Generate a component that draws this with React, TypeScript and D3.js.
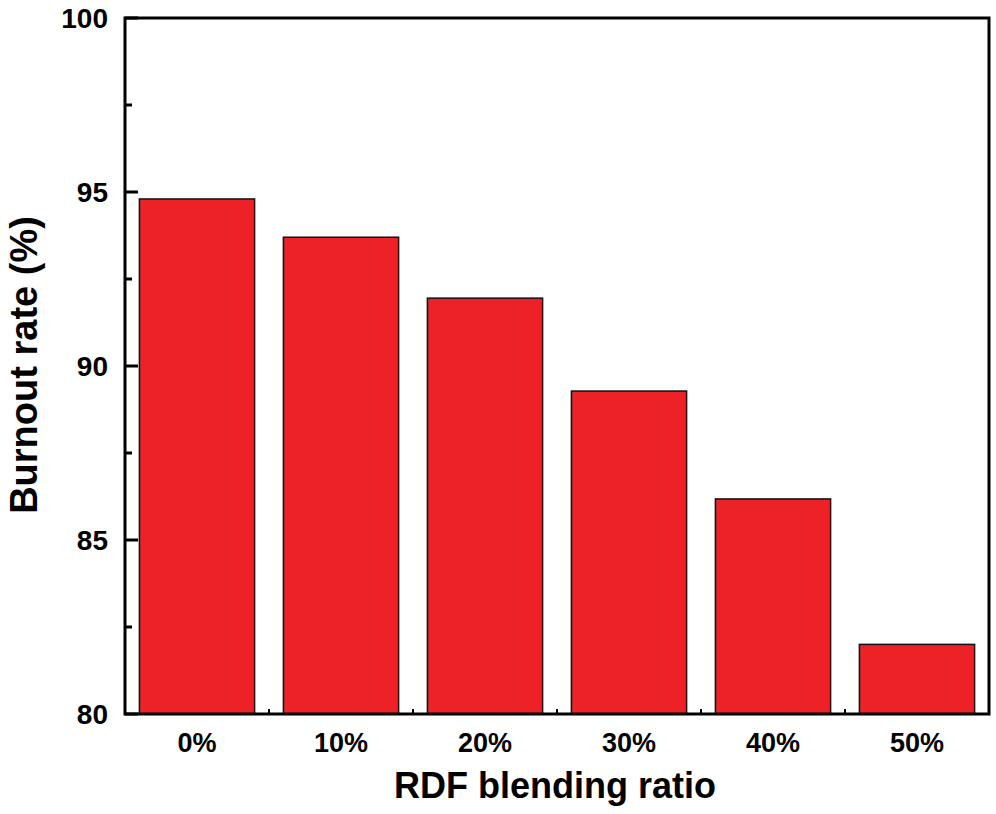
import React, { useEffect, useRef } from 'react';
import * as d3 from 'd3';

const categories = ['0%', '10%', '20%', '30%', '40%', '50%'];
const burnoutRate = [94.8, 93.7, 91.95, 89.28, 86.18, 82.0];
const yTicks = [80, 85, 90, 95, 100];
const yMinorTicks = [82.5, 87.5, 92.5, 97.5];

const W = 996;
const H = 814;
const MARGIN = { top: 18, right: 7, bottom: 100, left: 125 };
const FONT = '"Liberation Sans", Arial, sans-serif';

const App: React.FC = () => {
  const svgRef = useRef<SVGSVGElement>(null);

  useEffect(() => {
    const svg = d3.select(svgRef.current);
    svg.selectAll('*').remove();

    const innerW = W - MARGIN.left - MARGIN.right;
    const innerH = H - MARGIN.top - MARGIN.bottom;
    const g = svg.append('g').attr('transform', `translate(${MARGIN.left},${MARGIN.top})`);

    const x = d3.scaleBand().domain(categories).range([0, innerW]).paddingInner(0.2).paddingOuter(0.1);
    const y = d3.scaleLinear().domain([80, 100]).range([innerH, 0]);

    // bars
    g.selectAll('rect.bar')
      .data(burnoutRate)
      .enter()
      .append('rect')
      .attr('class', 'bar')
      .attr('x', (_, i) => x(categories[i])!)
      .attr('y', d => y(d))
      .attr('width', x.bandwidth())
      .attr('height', d => innerH - y(d))
      .attr('fill', '#ec2227')
      .attr('stroke', '#111')
      .attr('stroke-width', 1.5);

    // frame
    g.append('rect')
      .attr('x', 0)
      .attr('y', 0)
      .attr('width', innerW)
      .attr('height', innerH)
      .attr('fill', 'none')
      .attr('stroke', '#000')
      .attr('stroke-width', 3);

    // y ticks (inward)
    g.selectAll('line.ymaj')
      .data(yTicks)
      .enter()
      .append('line')
      .attr('x1', 0)
      .attr('x2', 13)
      .attr('y1', d => y(d))
      .attr('y2', d => y(d))
      .attr('stroke', '#000')
      .attr('stroke-width', 3);

    g.selectAll('line.ymin')
      .data(yMinorTicks)
      .enter()
      .append('line')
      .attr('x1', 0)
      .attr('x2', 7)
      .attr('y1', d => y(d))
      .attr('y2', d => y(d))
      .attr('stroke', '#000')
      .attr('stroke-width', 3);

    g.selectAll('text.ylab')
      .data(yTicks)
      .enter()
      .append('text')
      .attr('x', -17)
      .attr('y', d => y(d))
      .attr('dy', '0.36em')
      .attr('text-anchor', 'end')
      .style('font-family', FONT)
      .style('font-weight', 'bold')
      .style('font-size', '28px')
      .text(d => d);

    // x boundary ticks
    const step = x.step();
    g.selectAll('line.xtick')
      .data(categories.slice(1))
      .enter()
      .append('line')
      .attr('x1', d => x(d)! - (step - x.bandwidth()) / 2)
      .attr('x2', d => x(d)! - (step - x.bandwidth()) / 2)
      .attr('y1', innerH)
      .attr('y2', innerH - 5)
      .attr('stroke', '#000')
      .attr('stroke-width', 2);

    g.selectAll('text.xlab')
      .data(categories)
      .enter()
      .append('text')
      .attr('x', d => x(d)! + x.bandwidth() / 2)
      .attr('y', innerH + 38)
      .attr('text-anchor', 'middle')
      .style('font-family', FONT)
      .style('font-weight', 'bold')
      .style('font-size', '27px')
      .text(d => d);

    svg.append('text')
      .attr('x', 555)
      .attr('y', 798)
      .attr('text-anchor', 'middle')
      .style('font-family', FONT)
      .style('font-weight', 'bold')
      .style('font-size', '36px')
      .text('RDF blending ratio');

    svg.append('text')
      .attr('transform', `translate(37,365) rotate(-90)`)
      .attr('text-anchor', 'middle')
      .style('font-family', FONT)
      .style('font-weight', 'bold')
      .style('font-size', '38px')
      .text('Burnout rate (%)');
  }, []);

  return (
    <svg
      ref={svgRef}
      width={W}
      height={H}
      style={{ position: 'absolute', left: 0, top: 0, display: 'block', background: '#fff' }}
    />
  );
};

export default App;
